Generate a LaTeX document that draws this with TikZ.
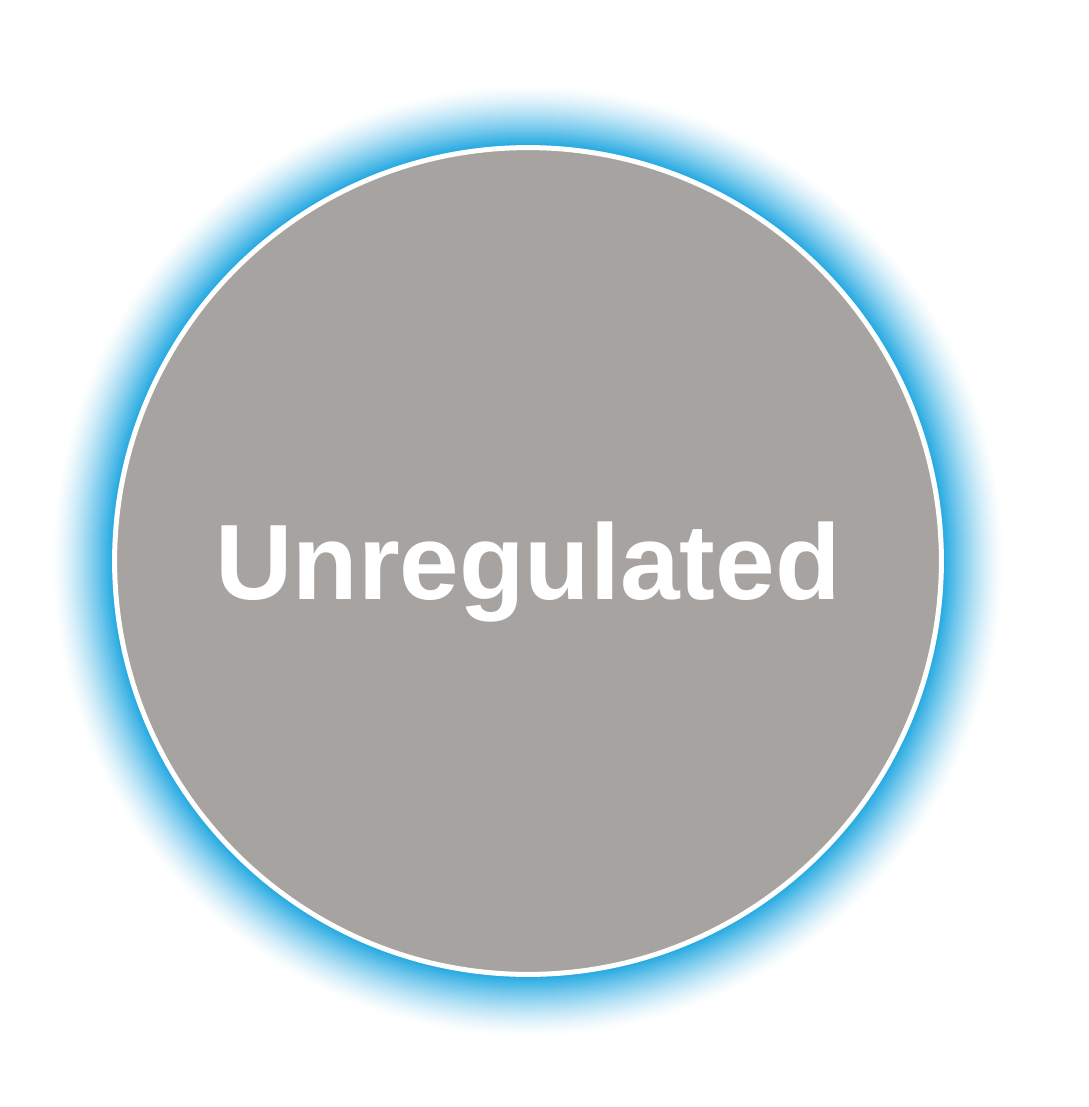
\documentclass[tikz,border=0pt]{standalone}
\usepackage{fontspec}
\setmainfont{Liberation Sans}
\usetikzlibrary{positioning}
\definecolor{glowblue}{HTML}{29ABE2}
\definecolor{discgray}{HTML}{A7A3A0}

\begin{document}
\begin{tikzpicture}[x=0.02cm, y=-0.02cm,
  disc/.style={circle, draw=white, line width=0.1cm, fill=discgray,
    minimum size=16.54cm, inner sep=0pt, text=white, text depth=0pt,
    font=\bfseries\fontsize{61}{61}\selectfont},
  glowring/.style={draw=none}]

\useasboundingbox (0, 0) rectangle (1089, 1107);

% --- Centre ---
\coordinate (c) at (528, 561);

% --- Blue glow ---
\foreach \k in {0,...,59} {
  \pgfmathsetmacro\mix{100*(\k/59)^1.4}
  \fill[glowring, glowblue!\mix!white] (c) circle ({(476-\k)*0.02cm});
}

% --- Disc ---
\node[disc] (disc) at (c) {Unregulated};

\end{tikzpicture}
\end{document}
